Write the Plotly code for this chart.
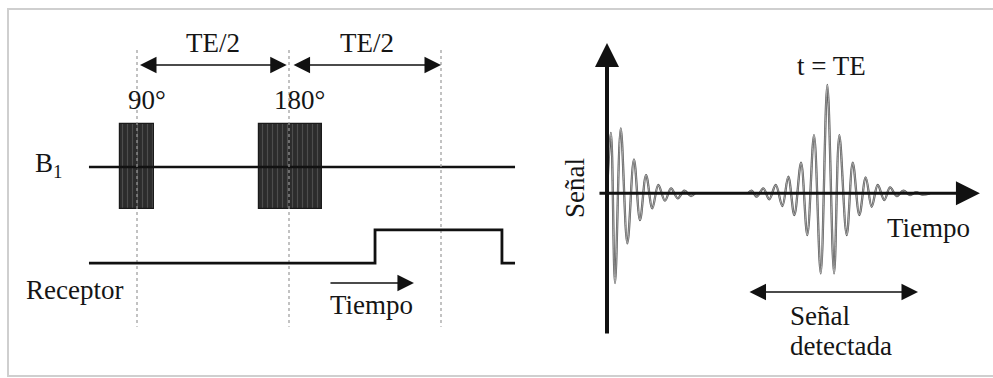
import plotly.graph_objects as go

# ---------------- Left panel: pulse sequence (time in ms, TE = 20 ms) ----------------
TE = 20.0
pulse_labels = ["90°", "180°"]
pulse_centers = [0.0, 10.1]
pulse_widths = [2.2, 4.2]
pulse_amp = [1.0, 1.0]
b1_line_t = [-3.16, 24.87]
b1_line_level = [0.0, 0.0]
marker_times = [0.0, 10.0, 20.0]          # 90°, 180°, echo (t = TE)
marker_span = [2.75, -3.76]
receptor_t = [-3.16, 15.66, 24.01, 24.87]
receptor_level = [-2.26, -1.48, -2.26, -2.26]
te_arrows = [(0.1, 9.85), (10.2, 20.0)]
te_labels = ["TE/2", "TE/2"]

# ---------------- Right panel: FID and spin echo (time in ms, normalised amplitude) ----------------
fid_t = [0.0, 0.36, 0.73, 1.25, 1.85, 2.45, 3.0, 3.55, 4.12, 4.66, 5.27, 5.82, 6.43, 7.03, 7.64, 8.0]
fid_a = [0.0, 0.557, -0.828, 0.600, -0.462, 0.314, -0.247, 0.169, -0.139, 0.077, -0.068, 0.046,
         -0.046, 0.024, -0.025, 0.0]
echo_t = [12.82, 13.15, 13.61, 14.21, 14.75, 15.34, 15.94, 16.48, 17.03, 17.64, 18.21, 18.82, 19.43,
          20.03, 20.64, 21.12, 21.79, 22.34, 22.94, 23.52, 24.06, 24.61, 25.21, 25.73, 26.34, 26.94,
          27.55, 28.09, 28.64, 29.36]
echo_a = [0.0, 0.024, -0.031, 0.046, -0.055, 0.077, -0.117, 0.153, -0.200, 0.283, -0.385, 0.538, -0.739,
          1.0, -0.739, 0.538, -0.385, 0.283, -0.200, 0.148, -0.124, 0.077, -0.062, 0.055, -0.025, 0.024,
          -0.016, 0.012, -0.011, 0.0]
signal_axis_t = [-0.82, 33.9]
signal_axis_a = [-1.308, 1.388]
detected_span = [12.82, 28.27]

FONT = "Liberation Serif, Times New Roman, serif"
TXT = "#151515"
FS = 27

fig = go.Figure()

# B1 baseline
fig.add_trace(go.Scatter(x=b1_line_t, y=b1_line_level, mode="lines",
                         line=dict(color="#111", width=2.6), xaxis="x", yaxis="y", hoverinfo="skip"))
# RF pulses
fig.add_trace(go.Bar(x=pulse_centers, y=[2 * a for a in pulse_amp], base=[-a for a in pulse_amp],
                     width=pulse_widths, xaxis="x", yaxis="y",
                     marker=dict(color="#2c2c2c", line=dict(color="#1a1a1a", width=1.2),
                                 pattern=dict(shape="|", fgcolor="#6e6e6e", bgcolor="#2c2c2c",
                                              size=5, solidity=0.22)),
                     hoverinfo="skip"))
# dotted time markers
for t in marker_times:
    fig.add_trace(go.Scatter(x=[t, t], y=marker_span, mode="lines",
                             line=dict(color="#9a9a9a", width=1.2, dash="dot"),
                             xaxis="x", yaxis="y", hoverinfo="skip"))
# receptor window
fig.add_trace(go.Scatter(x=receptor_t, y=receptor_level, mode="lines", line_shape="hv",
                         line=dict(color="#111", width=2.8), xaxis="x", yaxis="y", hoverinfo="skip"))

# FID and echo (grey line with darker edge)
for tt, aa in [(fid_t, fid_a), (echo_t, echo_a)]:
    fig.add_trace(go.Scatter(x=tt, y=aa, mode="lines", line_shape="spline",
                             line=dict(color="#5a5a5a", width=2.3, smoothing=1.0),
                             xaxis="x2", yaxis="y2", hoverinfo="skip"))
    fig.add_trace(go.Scatter(x=tt, y=aa, mode="lines", line_shape="spline",
                             line=dict(color="#bdbdbd", width=0.8, smoothing=1.0),
                             xaxis="x2", yaxis="y2", hoverinfo="skip"))

ann = []


def arrow(x0, y0, x1, y1, xr, yr, width, size, double=False):
    d = dict(x=x1, y=y1, ax=x0, ay=y0, xref=xr, yref=yr, axref=xr, ayref=yr, text="",
             showarrow=True, arrowhead=2, arrowsize=size, arrowwidth=width, arrowcolor="#111",
             standoff=0, startstandoff=0)
    if double:
        d.update(arrowside="end+start", startarrowhead=2, startarrowsize=size)
    return d


def label(x, y, text, xr, yr, size=FS, xanchor="center", angle=0):
    return dict(x=x, y=y, xref=xr, yref=yr, text=text, showarrow=False, xanchor=xanchor,
                yanchor="middle", textangle=angle, font=dict(family=FONT, size=size, color=TXT))


# left panel arrows and labels
for (a0, a1), lab in zip(te_arrows, te_labels):
    ann.append(arrow(a0, 2.4, a1, 2.4, "x", "y", 1.5, 2.2, double=True))
    ann.append(label((a0 + a1) / 2, 2.92, lab, "x", "y"))
ann.append(label(0.66, 1.58, pulse_labels[0], "x", "y"))
ann.append(label(10.72, 1.58, pulse_labels[1], "x", "y"))
ann.append(label(-5.79, 0.05, "B<sub>1</sub>", "x", "y"))
ann.append(label(-4.14, -2.89, "Receptor", "x", "y"))
ann.append(arrow(12.63, -2.73, 18.22, -2.73, "x", "y", 1.5, 2.2))
ann.append(label(15.46, -3.25, "Tiempo", "x", "y"))

# right panel axes, arrows and labels
ann.append(arrow(0.0, signal_axis_a[0], 0.0, signal_axis_a[1], "x2", "y2", 4, 1.2))
ann.append(arrow(signal_axis_t[0], 0.0, signal_axis_t[1], 0.0, "x2", "y2", 3, 1.6))
ann.append(arrow(detected_span[0], -0.911, detected_span[1], -0.911, "x2", "y2", 1.5, 2.2, double=True))
ann.append(label(-2.91, 0.05, "Señal", "x2", "y2", angle=-90))
ann.append(label(20.45, 1.175, "t = TE", "x2", "y2"))
ann.append(label(29.27, -0.32, "Tiempo", "x2", "y2"))
ann.append(label(16.45, -1.133, "Señal", "x2", "y2", xanchor="left"))
ann.append(label(16.45, -1.41, "detectada", "x2", "y2", xanchor="left"))

ax_common = dict(visible=False, showgrid=False, zeroline=False, fixedrange=True)
fig.update_layout(
    width=993, height=378, autosize=False,
    margin=dict(l=0, r=0, t=0, b=0, pad=0),
    paper_bgcolor="white", plot_bgcolor="rgba(0,0,0,0)",
    showlegend=False, bargap=0,
    xaxis=dict(range=[-9.013, 56.316], domain=[0, 1], **ax_common),
    yaxis=dict(range=[-4.965, 3.929], domain=[0, 1], **ax_common),
    xaxis2=dict(range=[-55.18, 35.09], overlaying="x", anchor="y2", **ax_common),
    yaxis2=dict(range=[-1.705, 1.785], overlaying="y", anchor="x2", **ax_common),
    annotations=ann,
    shapes=[dict(type="rect", xref="paper", yref="paper", x0=8 / 993, x1=1.02,
                 y0=1 - 376 / 378, y1=1 - 9 / 378, line=dict(color="#cfcfcf", width=2),
                 fillcolor="rgba(0,0,0,0)", layer="below")],
)

fig.write_html("out.html")
